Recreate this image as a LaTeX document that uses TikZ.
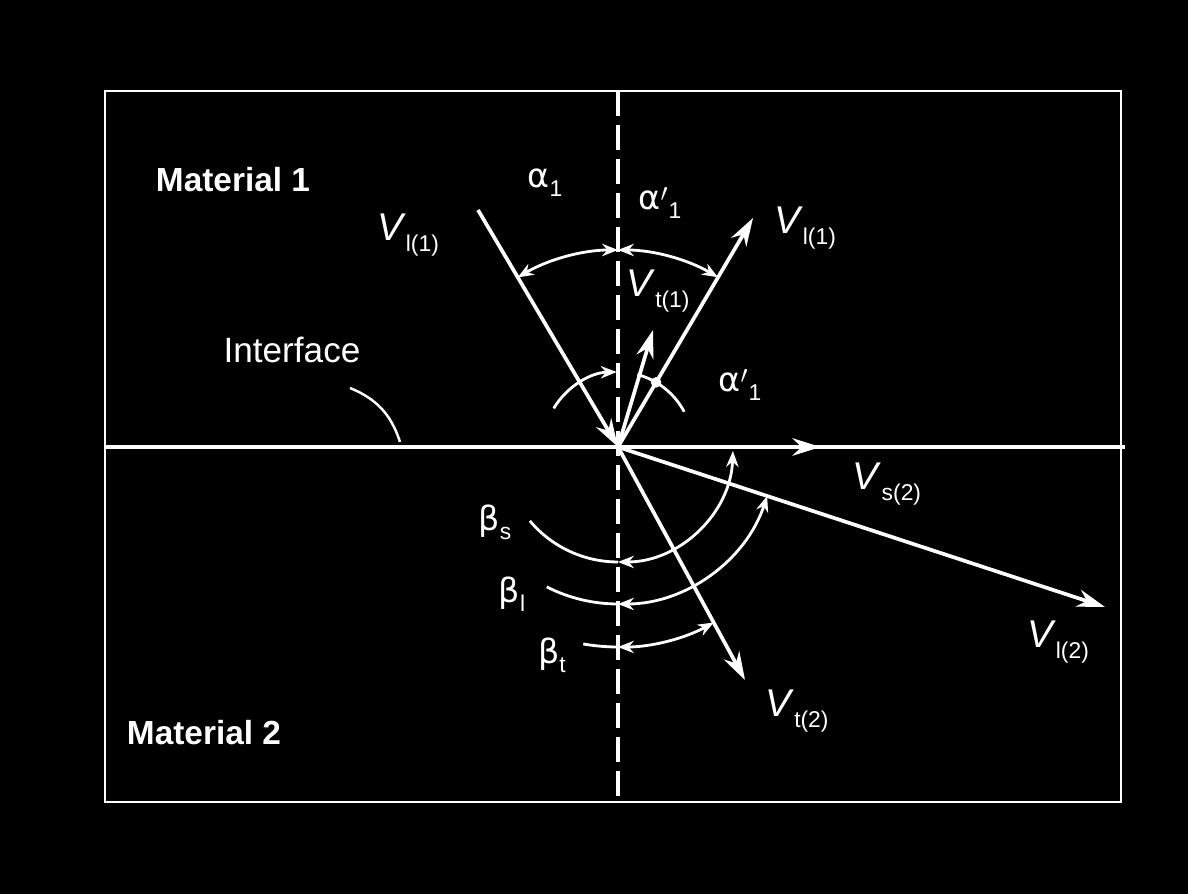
\documentclass[tikz,border=0pt]{standalone}
\usepackage{fontspec}
\setmainfont{Liberation Sans}
\newfontfamily\grk{DejaVu Sans}
\usepackage{tikz}
\usetikzlibrary{arrows.meta,positioning}

\newcommand{\vel}[1]{\textit{V}\raisebox{-6pt}{\fontsize{13}{13}\selectfont #1}}
\newcommand{\ang}[2]{{\grk #1}\raisebox{-5pt}{\fontsize{13}{13}\selectfont #2}}
\newcommand{\angp}[2]{{\grk #1}\raisebox{-2pt}{$'$}\raisebox{-5pt}{\fontsize{13}{13}\selectfont #2}}

\begin{document}
\begin{tikzpicture}[>=Stealth, white,
    ray/.style={line width=2.1pt,-{Stealth[length=16pt,width=10pt]}},
    angarc/.style={line width=1.6pt},
    dbl/.style={{Stealth[length=9pt,width=7pt]}-{Stealth[length=9pt,width=7pt]}},
    lbl/.style={font=\fontsize{22}{22}\selectfont},
    greek/.style={font=\fontsize{19}{19}\selectfont},
    mat/.style={font=\bfseries\fontsize{19}{19}\selectfont}]

    \fill[black] (-12.36,-8.94) rectangle (11.40,8.94);
    \useasboundingbox (-12.36,-8.94) rectangle (11.40,8.94);

    % frame, interface and normal
    \draw[line width=1.1pt] (-10.26,-7.10) rectangle (10.06,7.12);
    \draw[line width=1.8pt] (-10.26,0) -- (10.14,0);
    \draw[line width=2pt, dash pattern=on 0.5cm off 0.18cm] (0,7.12) -- (0,-7.10);

    \coordinate (O) at (0,0);
    \coordinate (inc) at (-2.80,4.74);
    \coordinate (rl) at (2.70,4.58);
    \coordinate (rt) at (0.70,2.34);
    \coordinate (ts) at (4.05,0);
    \coordinate (tl) at (9.74,-3.20);
    \coordinate (tt) at (2.54,-4.66);

    \draw[ray] (inc) -- (O);
    \draw[ray] (O) -- (rl);
    \draw[ray] (O) -- (rt);
    \draw[ray] (O) -- (ts);
    \draw[ray] (O) -- (tl);
    \draw[ray] (O) -- (tt);

    % angles above
    \draw[angarc,dbl] (90:3.94) arc[start angle=90, end angle=120.6, radius=3.94];
    \draw[angarc,dbl] (90:3.94) arc[start angle=90, end angle=59.5, radius=3.94];
    \draw[angarc,-{Stealth[length=9pt,width=7pt]}] (149:1.5) arc[start angle=149, end angle=91, radius=1.5];
    \draw[angarc] (75:1.5) arc[start angle=75, end angle=28, radius=1.5];
    \fill (59.5:1.5) circle (3pt);

    % angles below
    \draw[angarc] (-140:2.3) arc[start angle=-140, end angle=-90, radius=2.3];
    \draw[angarc,dbl] (-90:2.3) arc[start angle=-90, end angle=-2, radius=2.3];
    \draw[angarc] (-117:3.14) arc[start angle=-117, end angle=-90, radius=3.14];
    \draw[angarc,dbl] (-90:3.14) arc[start angle=-90, end angle=-18.2, radius=3.14];
    \draw[angarc] (-100:4.0) arc[start angle=-100, end angle=-90, radius=4.0];
    \draw[angarc,dbl] (-90:4.0) arc[start angle=-90, end angle=-61.4, radius=4.0];

    % labels
    \node[mat] (mat1) at (-7.70,5.34) {Material 1};
    \node[mat] (mat2) at (-8.28,-5.72) {Material 2};
    \node[font=\fontsize{20}{20}\selectfont] (intf) at (-6.52,1.94) {Interface};
    \coordinate (ptr) at (-5.36,1.18);
    \coordinate (ptrend) at (-4.36,0.10);
    \draw[line width=1.4pt] (ptr) to[bend left=25] (ptrend);

    \node[lbl] (vinc) at (-4.2,4.24) {\vel{l(1)}};
    \node[lbl] (vrl) at (3.74,4.38) {\vel{l(1)}};
    \node[lbl] (vrt) at (0.80,3.12) {\vel{t(1)}};
    \node[lbl] (vts) at (5.38,-0.74) {\vel{s(2)}};
    \node[lbl] (vtl) at (8.80,-3.90) {\vel{l(2)}};
    \node[lbl] (vtt) at (3.58,-5.28) {\vel{t(2)}};

    \node[greek] (a1) at (-1.46,5.28) {\ang{α}{1}};
    \node[greek] (a1r) at (0.84,4.88) {\angp{α}{1}};
    \node[greek] (a1t) at (2.44,1.24) {\angp{α}{1}};
    \node[greek] (bs) at (-2.46,-1.50) {\ang{β}{s}};
    \node[greek] (bl) at (-2.12,-2.94) {\ang{β}{l}};
    \node[greek] (bt) at (-1.32,-4.16) {\ang{β}{t}};
\end{tikzpicture}
\end{document}
